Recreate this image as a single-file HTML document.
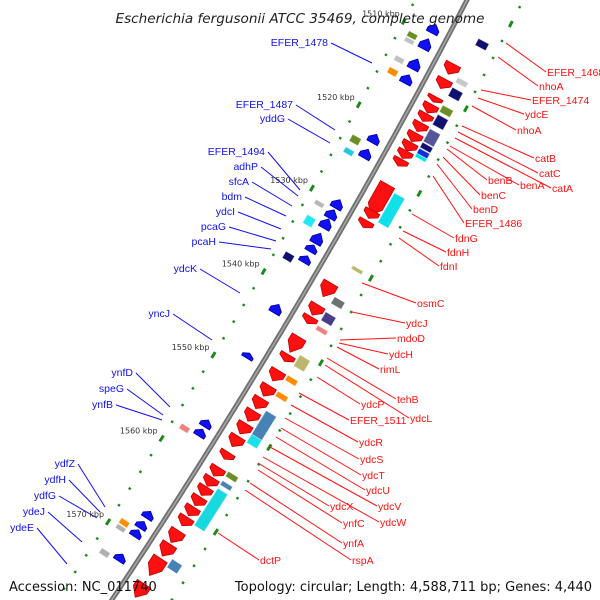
<!DOCTYPE html>
<html><head><meta charset="utf-8"><style>
html,body{margin:0;padding:0;background:#fff;width:600px;height:600px;overflow:hidden}
svg{display:block;font-family:"DejaVu Sans","Liberation Sans",sans-serif;overflow:hidden}
</style></head><body>
<svg id="map" width="600" height="600" viewBox="0 0 600 600">
<g id="bg"></g><g id="lines"></g><g id="feat"></g><g id="txt"></g>
<text x="300" y="23" text-anchor="middle" font-size="13.6" font-style="italic" fill="#222">Escherichia fergusonii ATCC 35469, complete genome</text>
<text x="9" y="591" font-size="13" fill="#111">Accession: NC_011740</text>
<text x="592" y="591" text-anchor="end" font-size="13" fill="#111">Topology: circular; Length: 4,588,711 bp; Genes: 4,440</text>
</svg>
<script>
// ---- data (kbp) ----
const fwdGenes = [[1511.5,1512.7],[1513.3,1514.4],[1515.4,1516.0],[1516.3,1517.3],[1517.4,1518.3],[1518.5,1519.5],[1519.7,1520.7],[1520.8,1521.8],[1521.8,1522.7],[1522.8,1523.6],[1525.8,1529.4],[1528.9,1529.8],[1530.1,1530.9],[1537.5,1539.1],[1540.1,1541.3],[1541.5,1542.3],[1543.9,1545.7],[1546.0,1546.8],[1547.9,1549.1],[1549.7,1550.9],[1551.2,1552.4],[1552.7,1553.9],[1554.2,1555.4],[1555.7,1556.9],[1557.6,1558.4],[1559.4,1560.4],[1560.6,1561.6],[1561.7,1562.7],[1562.9,1563.9],[1564.1,1565.1],[1565.3,1566.3],[1566.9,1568.3],[1568.5,1569.9],[1570.2,1572.2],[1573.2,1574.8]];
const revGenes = [[1508.7,1509.7],[1510.4,1511.6],[1512.8,1514.0],[1514.7,1515.7],[1521.8,1522.8],[1523.6,1524.6],[1529.6,1530.6],[1530.8,1531.8],[1531.9,1533.0],[1533.6,1534.8],[1535.0,1535.8],[1536.3,1537.1],[1542.1,1543.1],[1547.9,1548.5],[1555.9,1556.7],[1557.0,1557.8],[1566.8,1567.6],[1568.0,1568.8],[1569.0,1569.8],[1571.9,1572.7]];
const cogRight = [[1507.9,1508.7,"#101070"],[1512.5,1513.1,"#c8c8c8"],[1513.7,1514.7,"#101070"],[1515.8,1516.6,"#6b8e23"],[1516.9,1518.1,"#101070"],[1518.6,1520.1,"#55559a"],[1520.2,1520.8,"#101070"],[1520.9,1521.5,"#1030e0"],[1521.5,1521.9,"#00e0f0"],[1526.2,1529.7,"#11e0ea"],[1534.8,1535.2,"#bdb76b"],[1538.5,1539.3,"#707070"],[1540.3,1541.3,"#483d8b"],[1541.9,1542.4,"#f08080"],[1545.4,1546.7,"#bdb76b"],[1547.8,1548.4,"#ff8c00"],[1549.7,1550.3,"#ff8c00"],[1552.0,1555.0,"#4682b4"],[1554.8,1555.8,"#1ae0ea"],[1559.2,1559.8,"#6b8e23"],[1560.3,1560.8,"#4682b4"],[1561.2,1565.6,"#1ad8e0"],[1569.6,1570.6,"#4682b4"]];
const cogLeft = [[1510.6,1511.2,"#6b8e23"],[1511.3,1511.8,"#c0c0c0"],[1513.5,1514.1,"#c0c0c0"],[1514.9,1515.6,"#ff8c00"],[1523.0,1523.8,"#6b8e23"],[1524.5,1525.1,"#20c8e0"],[1530.8,1531.3,"#b8b8b8"],[1532.6,1533.6,"#22e8f0"],[1537.0,1537.8,"#101070"],[1557.6,1558.2,"#f08080"],[1568.9,1569.5,"#ff8c00"],[1569.6,1570.1,"#b0b0b0"],[1572.5,1573.1,"#b0b0b0"]];
const tickKbp = [1510,1520,1530,1540,1550,1560,1570];
const tickLabels = ["1510 kbp","1520 kbp","1530 kbp","1540 kbp","1550 kbp","1560 kbp","1570 kbp"];
// labels: [text, x, y, lineStartX, lineStartY]
const leftLabels = [["EFER_1478",328,42,372,63],["EFER_1487",293,104,335,130],["yddG",285,118,330,143],["EFER_1494",265,151,300,190],["adhP",258,166,298,196],["sfcA",249,181,292,206],["bdm",242,196,286,216],["ydcI",235,211,281,229],["pcaG",226,226,276,241],["pcaH",216,241,271,249],["ydcK",197,268,240,293],["yncJ",170,313,212,340],["ynfD",133,372,170,407],["speG",124,388,163,415],["ynfB",113,404,162,420],["ydfZ",75,463,105,507],["ydfH",66,479,100,512],["ydfG",56,495,97,518],["ydeJ",45,511,82,542],["ydeE",34,527,67,564]];
const rightLabels = [["EFER_1468",547,72,506,43],["nhoA",539,86,498,57],["EFER_1474",532,100,481,90],["ydcE",525,114,478,98],["nhoA",517,130,472,106],["catB",535,158,462,126],["catC",539,173,458,132],["catA",552,188,455,138],["benA",520,185,450,146],["benB",488,180,447,149],["benC",481,195,443,157],["benD",473,209,437,164],["EFER_1486",465,223,433,176],["fdnG",455,238,412,214],["fdnH",447,252,403,231],["fdnI",440,266,399,238],["osmC",417,303,362,283],["ydcJ",406,323,352,312],["mdoD",397,338,340,340],["ydcH",389,354,339,343],["rimL",380,369,337,347],["tehB",397,399,327,358],["ydcL",410,418,325,365],["ydcP",361,404,317,377],["EFER_1511",350,420,299,393],["ydcR",359,442,291,405],["ydcS",360,459,285,418],["ydcT",362,475,281,428],["ydcU",366,490,276,437],["ydcV",378,506,270,447],["ydcW",380,522,263,457],["ydcX",330,506,258,463],["ynfC",343,523,258,470],["ynfA",343,543,250,483],["rspA",352,560,245,490],["dctP",260,560,218,533]];

const NS="http://www.w3.org/2000/svg";
function el(tag,attrs,parent){const e=document.createElementNS(NS,tag);for(const k in attrs)e.setAttribute(k,attrs[k]);parent.appendChild(e);return e;}
function P(k,d){const y0=127+(k-1520)*8.4;const bx=467-0.52*y0-0.00012*y0*y0;const dd=-0.52-0.00024*y0;const L=Math.hypot(dd,1);return [bx+d/L,y0-dd*d/L];}
const bg=document.getElementById('bg'),lines=document.getElementById('lines'),feat=document.getElementById('feat'),txt=document.getElementById('txt');
let pts=[];for(let k=1502;k<=1578;k+=0.5){pts.push(P(k,0).map(v=>v.toFixed(1)).join(','));}
const bb=el('polyline',{points:pts.join(' '),fill:'none',stroke:'#707070','stroke-width':5},bg);


const bb2=el('polyline',{points:pts.join(' '),fill:'none',stroke:'#a8a8a8','stroke-width':1.5},bg);


for(let k=1502;k<=1578;k+=2){
  [[-46,k],[50,k+1]].forEach(([d,kk])=>{const major=(d<0&&kk%10===0)||(d>0&&kk%10===5);const a=P(kk-(major?0.35:0.12),d),b=P(kk+(major?0.35:0.12),d);
    if(a[1]>600)return;
    const t=el('line',{x1:a[0],y1:a[1],x2:b[0],y2:b[1],stroke:'#1a8a1a','stroke-width':major?3:2.5},bg);
    
    });
}
tickKbp.forEach((k,i)=>{const p=P(k,-46);const t=el('text',{x:p[0]-4,y:p[1]-5,'text-anchor':'end','font-size':8,fill:'#333'},txt);t.textContent=tickLabels[i];
  
  });
function arrow(s,e,d,w,dir,fill,stroke,name){
  const len=e-s;const head=Math.min(len*0.55,1.0);
  let poly;
  if(dir>0){poly=[P(s,d-w/2),P(e-head,d-w/2),P(e,d),P(e-head,d+w/2),P(s,d+w/2)];}
  else{poly=[P(e,d-w/2),P(s+head,d-w/2),P(s,d),P(s+head,d+w/2),P(e,d+w/2)];}
  const g=el('polygon',{points:poly.map(p=>p.map(v=>v.toFixed(1)).join(',')).join(' '),fill:fill,stroke:stroke,'stroke-width':0.8},feat);
  
  
}
function block(s,e,d,w,fill,name){
  const poly=[P(s,d-w/2),P(e,d-w/2),P(e,d+w/2),P(s,d+w/2)];
  const g=el('polygon',{points:poly.map(p=>p.map(v=>v.toFixed(1)).join(',')).join(' '),fill:fill,stroke:'rgba(255,255,255,0.6)','stroke-width':0.8},feat);
  
  
}
fwdGenes.forEach(g=>arrow(g[0],g[1],18,16,1,'#ff1010','#c00000','forward-gene'));
revGenes.forEach(g=>arrow(g[0],g[1],-16,12,-1,'#1010f0','#0000a0','reverse-gene'));
cogRight.forEach(g=>block(g[0],g[1],34,12,g[2],'cog-block-forward'));
cogLeft.forEach(g=>block(g[0],g[1],-32,10,g[2],'cog-block-reverse'));
leftLabels.forEach(l=>{const ln=el('line',{x1:l[1]+3,y1:l[2]+1,x2:l[3],y2:l[4],stroke:'#1010f0','stroke-width':1},lines);
  
  
  const t=el('text',{x:l[1],y:l[2]+4,'text-anchor':'end','font-size':10.5,'font-family':'Liberation Sans, sans-serif',fill:'#1010f0'},txt);t.textContent=l[0];
  
  });
rightLabels.forEach(l=>{const ln=el('line',{x1:l[3],y1:l[4],x2:l[1]-1,y2:l[2],stroke:'#ff1010','stroke-width':1},lines);
  
  
  const t=el('text',{x:l[1],y:l[2]+4,'font-size':10.5,'font-family':'Liberation Sans, sans-serif',fill:'#ff1010'},txt);t.textContent=l[0];
  
  });
</script>
</body></html>
